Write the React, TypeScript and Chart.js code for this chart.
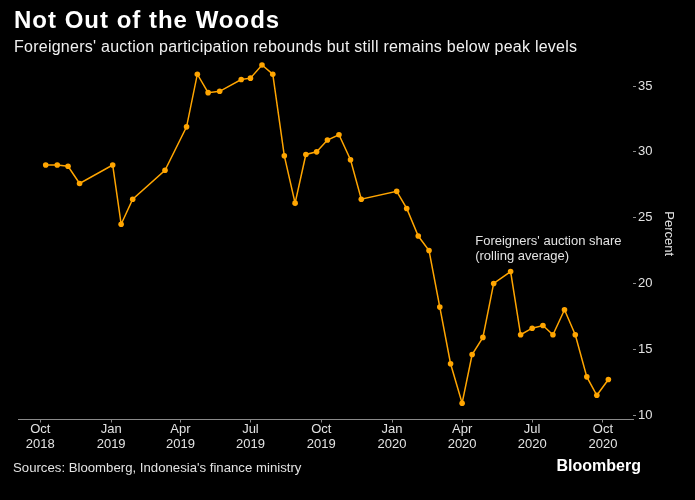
import React, { useEffect, useRef } from "react";
import { Chart, registerables } from "chart.js";

Chart.register(...registerables);

// ---- Data ----
const dates: string[] = [
  "2018-10-08", "2018-10-23", "2018-11-06", "2018-11-21",
  "2019-01-03", "2019-01-14", "2019-01-29", "2019-03-12",
  "2019-04-09", "2019-04-23", "2019-05-07", "2019-05-22",
  "2019-06-19", "2019-07-01", "2019-07-16", "2019-07-30",
  "2019-08-14", "2019-08-28", "2019-09-11", "2019-09-25",
  "2019-10-09", "2019-10-24", "2019-11-08", "2019-11-22",
  "2020-01-07", "2020-01-20", "2020-02-04", "2020-02-18",
  "2020-03-03", "2020-03-17", "2020-04-01", "2020-04-14",
  "2020-04-28", "2020-05-12", "2020-06-03", "2020-06-16",
  "2020-07-01", "2020-07-15", "2020-07-28", "2020-08-12",
  "2020-08-26", "2020-09-10", "2020-09-23", "2020-10-08",
];

const shares: number[] = [
  29.0, 29.0, 28.9, 27.6,
  29.0, 24.5, 26.4, 28.6,
  31.9, 35.9, 34.5, 34.6,
  35.5, 35.6, 36.6, 35.9,
  29.7, 26.1, 29.8, 30.0,
  30.9, 31.3, 29.4, 26.4,
  27.0, 25.7, 23.6, 22.5,
  18.2, 13.9, 10.9, 14.6,
  15.9, 20.0, 20.9, 16.1,
  16.6, 16.8, 16.1, 18.0,
  16.1, 12.9, 11.5, 12.7,
];

const tickDates: string[] = [
  "2018-10-01", "2019-01-01", "2019-04-01", "2019-07-01", "2019-10-01",
  "2020-01-01", "2020-04-01", "2020-07-01", "2020-10-01",
];
const tickLabels: string[][] = [
  ["Oct", "2018"], ["Jan", "2019"], ["Apr", "2019"], ["Jul", "2019"], ["Oct", "2019"],
  ["Jan", "2020"], ["Apr", "2020"], ["Jul", "2020"], ["Oct", "2020"],
];
const yTicks: number[] = [10, 15, 20, 25, 30, 35];

const xStartDate = "2018-09-02";
const xEndDate = "2020-11-09";
const yMin = 9.66;
const yMax = 36.98;

const annotationDate = "2020-04-18";
const annotationValue = 23.2;
const annotationLines: string[] = ["Foreigners' auction share", "(rolling average)"];

const ORIGIN = Date.UTC(2018, 9, 1);
const toDay = (s: string): number => {
  const [y, m, d] = s.split("-").map(Number);
  return Math.round((Date.UTC(y, m - 1, d) - ORIGIN) / 86400000);
};

const FONT = "'Liberation Sans', Arial, sans-serif";
const ORANGE = "#ffa500";
const TEXT = "#e2e2e2";
const AXIS = "#8a8a8a";

const overlayPlugin = {
  id: "overlay",
  afterDraw(chart: any) {
    const { ctx, scales } = chart;
    const xs = scales.x;
    const ys = scales.y;
    ctx.save();
    ctx.fillStyle = TEXT;
    ctx.font = `13px ${FONT}`;
    ctx.textAlign = "left";
    ctx.textBaseline = "middle";
    const ax = xs.getPixelForValue(toDay(annotationDate));
    const ay = ys.getPixelForValue(annotationValue);
    annotationLines.forEach((l, i) => ctx.fillText(l, ax, ay + i * 15.5));
    // axis title
    ctx.translate(chart.chartArea.right + 36, (chart.chartArea.top + chart.chartArea.bottom) / 2 - 6);
    ctx.rotate(Math.PI / 2);
    ctx.textAlign = "center";
    ctx.fillText("Percent", 0, 0);
    ctx.restore();
  },
};

export default function App() {
  const ref = useRef<HTMLCanvasElement | null>(null);

  useEffect(() => {
    document.body.style.margin = "0";
    document.body.style.background = "#000";
    const canvas = ref.current;
    if (!canvas) return;
    const chart = new Chart(canvas, {
      type: "line",
      data: {
        datasets: [
          {
            label: "Foreigners' auction share (rolling average)",
            data: dates.map((d, i) => ({ x: toDay(d), y: shares[i] })),
            borderColor: ORANGE,
            backgroundColor: ORANGE,
            borderWidth: 1.5,
            pointRadius: 2.8,
            pointBorderWidth: 0,
            pointBackgroundColor: ORANGE,
            tension: 0,
          },
        ],
      },
      options: {
        animation: false,
        responsive: false,
        devicePixelRatio: 1,
        layout: { padding: { left: 18, top: 60, right: 0, bottom: 40.5 } },
        plugins: {
          legend: { display: false },
          tooltip: { enabled: false },
          title: { display: false },
        },
        scales: {
          x: {
            type: "linear",
            min: toDay(xStartDate),
            max: toDay(xEndDate),
            afterBuildTicks: (scale: any) => {
              scale.ticks = tickDates.map((d) => ({ value: toDay(d) }));
            },
            afterFit: (scale: any) => {
              scale.height = 40;
            },
            ticks: {
              autoSkip: false,
              maxRotation: 0,
              minRotation: 0,
              padding: 0,
              color: TEXT,
              font: { family: FONT, size: 13, lineHeight: 1.1 },
              callback: (_v: any, i: number) => tickLabels[i],
            },
            grid: {
              display: true,
              drawOnChartArea: false,
              drawTicks: true,
              tickLength: 3,
              color: AXIS,
            },
            border: { display: true, color: AXIS, width: 1 },
          },
          y: {
            type: "linear",
            position: "right",
            min: yMin,
            max: yMax,
            afterBuildTicks: (scale: any) => {
              scale.ticks = yTicks.map((v) => ({ value: v }));
            },
            afterFit: (scale: any) => {
              scale.width = 62;
            },
            ticks: {
              padding: 2,
              color: TEXT,
              font: { family: FONT, size: 13 },
              callback: (v: any) => String(v),
            },
            grid: {
              display: true,
              drawOnChartArea: false,
              drawTicks: true,
              tickLength: 3,
              color: AXIS,
            },
            border: { display: false },
          },
        },
      },
      plugins: [overlayPlugin],
    });
    return () => chart.destroy();
  }, []);

  const base: React.CSSProperties = {
    position: "absolute",
    fontFamily: FONT,
    whiteSpace: "nowrap",
    margin: 0,
  };

  return (
    <div style={{ position: "relative", width: 695, height: 500, background: "#000", overflow: "hidden" }}>
      <canvas ref={ref} width={695} height={500} style={{ position: "absolute", left: 0, top: 0, width: 695, height: 500 }} />
      <div style={{ ...base, left: 14, top: 8, fontSize: 24, lineHeight: "24px", fontWeight: 700, color: "#fff", letterSpacing: "1px" }}>
        Not Out of the Woods
      </div>
      <div style={{ ...base, left: 14, top: 39, fontSize: 16, lineHeight: "16px", color: "#f0f0f0", letterSpacing: "0.25px" }}>
        Foreigners' auction participation rebounds but still remains below peak levels
      </div>
      <div style={{ ...base, left: 13, top: 460.5, fontSize: 13.2, lineHeight: "13.2px", color: TEXT }}>
        Sources: Bloomberg, Indonesia's finance ministry
      </div>
      <div style={{ ...base, right: 54, top: 458, fontSize: 16, lineHeight: "16px", fontWeight: 700, color: "#fff" }}>
        Bloomberg
      </div>
    </div>
  );
}
